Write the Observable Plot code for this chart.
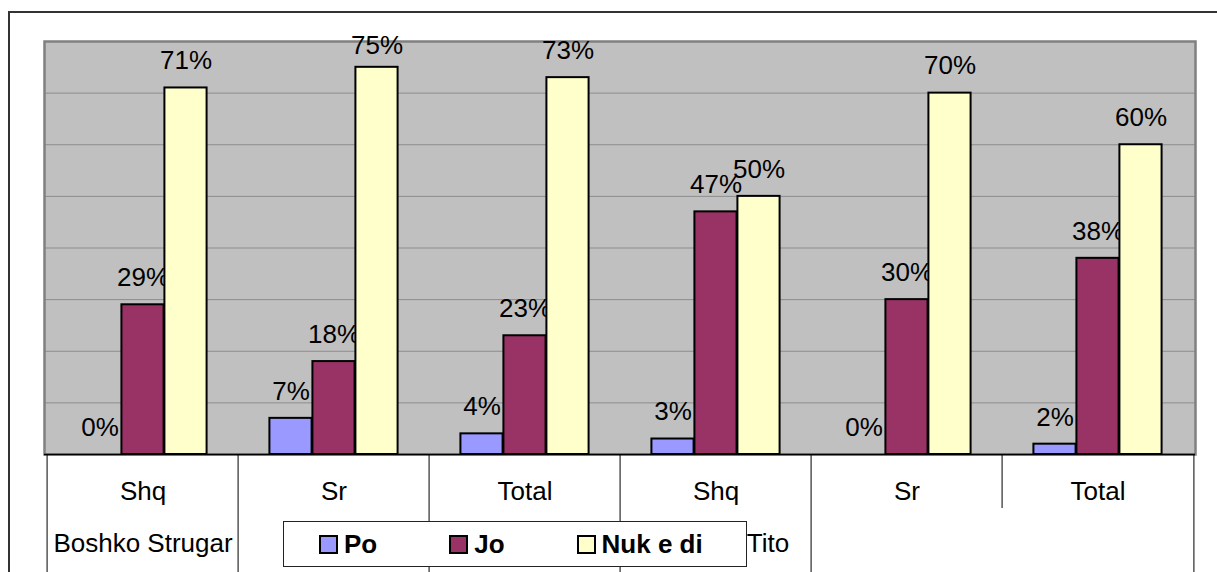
<!DOCTYPE html>
<html>
<head>
<meta charset="utf-8">
<script src="https://cdn.jsdelivr.net/npm/d3@7"></script>
<script src="https://cdn.jsdelivr.net/npm/@observablehq/plot@0.6"></script>
<style>
  html, body { margin: 0; padding: 0; background: #fff; }
  #wrap { position: relative; width: 1217px; height: 572px; overflow: hidden; font-family: "Liberation Sans", Arial, sans-serif; }
  #outer { position: absolute; left: 8px; top: 11px; width: 1400px; height: 800px; border: 2px solid #333; box-sizing: border-box; pointer-events: none; }
  #chart { position: absolute; left: 0; top: 0; }
  #legend { position: absolute; left: 283px; top: 521px; width: 464px; height: 46px; box-sizing: border-box;
            border: 1.5px solid #222; background: #fff; display: flex; align-items: center; padding-left: 35px; gap: 72px; }
  .item { display: flex; align-items: center; gap: 6px; font-weight: bold; font-size: 26px; color: #000; }
  .sw { width: 19px; height: 19px; box-sizing: border-box; border: 2px solid #000; }
</style>
</head>
<body>
<div id="wrap">
  <div id="outer"></div>
  <div id="chart"></div>
  <div id="legend"></div>
</div>
<script>
// ---- data ----
const groups = ["Shq", "Sr", "Total", "Shq", "Sr", "Total"];
const schools = ["Boshko Strugar", "Tito"];
const schoolStart = [0, 3];
const series = ["Po", "Jo", "Nuk e di"];
const colors = ["#9999ff", "#993366", "#ffffcc"];
const po  = [0, 7, 4, 3, 0, 2];
const jo  = [29, 18, 23, 47, 30, 38];
const nuk = [71, 75, 73, 50, 70, 60];
const gridTicks = [10, 20, 30, 40, 50, 60, 70];
const yMax = 80;
// header rows spanned by the divider at each group edge (left edges of groups 0..5, then right edge)
const dividerDepth = [2, 2, 2, 2, 2, 1, 2];

// ---- layout ----
const W = 1217, H = 572;
const mL = 44, mR = 22, mT = 41, mB = 118;
const bw = (W - mL - mR) / groups.length;   // band width
const barW = 43;
const frameH = H - mT - mB;
const row1 = 54;
const fs = 26;

const values = [po, jo, nuk];
const rows = [];
series.forEach((s, si) => groups.forEach((g, gi) => rows.push({g: gi, s, si, value: values[si][gi]})));

const marks = [
  Plot.frame({fill: "#c0c0c0", stroke: null}),
  Plot.ruleY(gridTicks, {stroke: "#8c8c8c", strokeWidth: 1}),
  Plot.frame({stroke: "#808080", strokeWidth: 2.5})
];
series.forEach((s, si) => {
  const d = rows.filter(r => r.si === si);
  const dx = (si - 1) * barW;
  marks.push(Plot.barY(d, {
    x: "g", y: "value", fill: colors[si], stroke: "#000", strokeWidth: 2,
    dx, insetLeft: (bw - barW) / 2, insetRight: (bw - barW) / 2
  }));
  // labels kept inside the plot area near the top, as the original does
  marks.push(Plot.text(d, {
    x: "g", y: r => Math.min(r.value, yMax - 6), text: r => r.value + "%", dx, dy: -27,
    fontSize: fs, fill: "#000", lineAnchor: "middle"
  }));
});
marks.push(Plot.ruleY([0], {stroke: "#000", strokeWidth: 1.5}));

// category dividers
const edges = dividerDepth.map((depth, e) => ({e, depth}));
for (const depth of [1, 2]) {
  const inner = edges.filter(d => d.depth === depth && d.e < groups.length);
  const last = edges.filter(d => d.depth === depth && d.e === groups.length);
  const insetBottom = -(depth === 2 ? mB : row1);
  if (inner.length) marks.push(Plot.ruleX(inner, {x: "e", dx: -bw / 2, insetTop: frameH, insetBottom, stroke: "#000", strokeWidth: 1}));
  if (last.length) marks.push(Plot.ruleX(last, {x: d => d.e - 1, dx: bw / 2, insetTop: frameH, insetBottom, stroke: "#000", strokeWidth: 1}));
}

// category axis
marks.push(Plot.axisX({tickSize: 0, tickPadding: 27, fontSize: fs, tickFormat: i => groups[i], label: null}));

// group labels (second row)
marks.push(Plot.text([0], {x: d => schoolStart[d], y: () => 0, text: d => schools[d], dy: 89, fontSize: fs, fill: "#000", lineAnchor: "middle"}));
marks.push(Plot.text([1], {x: d => schoolStart[d], y: () => 0, text: d => schools[d], dy: 89, dx: 52, fontSize: fs, fill: "#000", lineAnchor: "middle"}));

const chart = Plot.plot({
  width: W, height: H,
  marginLeft: mL, marginRight: mR, marginTop: mT, marginBottom: mB,
  style: {fontFamily: "Liberation Sans, Arial, sans-serif", fontSize: fs + "px", background: "transparent", color: "#000", overflow: "visible"},
  x: {type: "band", domain: d3.range(groups.length), padding: 0, axis: null},
  y: {domain: [0, yMax], axis: null},
  marks
});
document.getElementById("chart").appendChild(chart);

const legend = document.getElementById("legend");
series.forEach((s, i) => {
  const it = document.createElement("div");
  it.className = "item";
  const sw = document.createElement("div");
  sw.className = "sw";
  sw.style.background = colors[i];
  const t = document.createElement("span");
  t.textContent = s;
  it.appendChild(sw); it.appendChild(t);
  legend.appendChild(it);
});
</script>
</body>
</html>
